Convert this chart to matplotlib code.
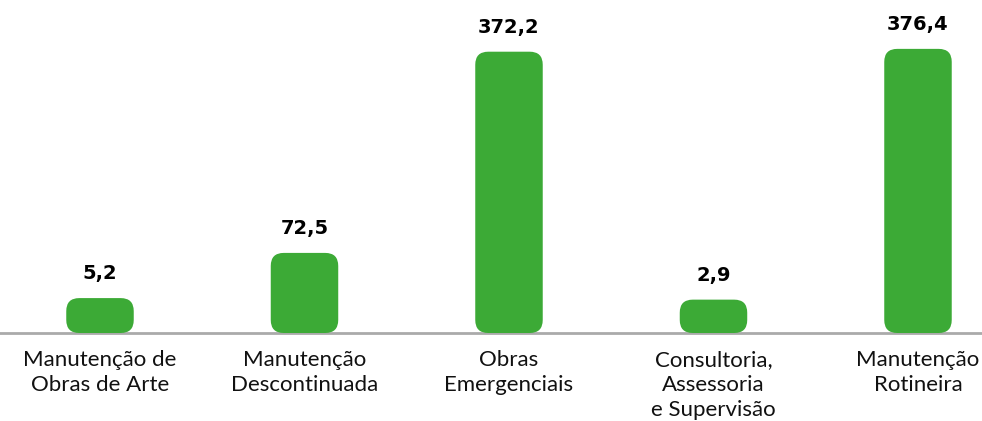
import matplotlib
matplotlib.use('Agg')
import matplotlib.pyplot as plt
from matplotlib.patches import FancyBboxPatch

categories = ['Manutenção de\nObras de Arte', 'Manutenção\nDescontinuada', 'Obras\nEmergenciais',
              'Consultoria,\nAssessoria\ne Supervisão', 'Manutenção\nRotineira']
values = [5.2, 72.5, 372.2, 2.9, 376.4]

green = '#3caa36'
stub = 46.8          # visual minimum added under every bar
bar_w = 0.33
dpi = 100
W, H = 982, 421
base_px, top_px = 88, 421

plt.rcParams['font.family'] = ['Lato', 'DejaVu Sans']

fig = plt.figure(figsize=(W / dpi, H / dpi), dpi=dpi)
ax = fig.add_axes([0, base_px / H, 1, (top_px - base_px) / H])

xlo, xhi = -0.489, 4.313
ylo, yhi = 0, 496
ax.set_xlim(xlo, xhi)
ax.set_ylim(ylo, yhi)

px_x = W / (xhi - xlo)
px_y = (top_px - base_px) / (yhi - ylo)
aspect = px_x / px_y

for i, v in enumerate(values):
    h = v + stub
    r_px = min(13, h * px_y / 2)
    p = FancyBboxPatch((i - bar_w / 2, 0), bar_w, h,
                       boxstyle=f'round,pad=0,rounding_size={r_px / px_x}',
                       mutation_aspect=aspect, fc=green, ec='none', zorder=2)
    ax.add_patch(p)
    ax.annotate(f'{v:.1f}'.replace('.', ','), (i, h), xytext=(0, 13.5), textcoords='offset points',
                ha='center', va='baseline', fontsize=14, fontweight='bold', color='black',
                family='DejaVu Sans')

ax.set_xticks(range(len(categories)))
ax.set_xticklabels(categories, fontsize=16, linespacing=1.32, color='#111111')
ax.tick_params(axis='x', length=0, pad=12)
ax.set_yticks([])
for s in ['top', 'left', 'right']:
    ax.spines[s].set_visible(False)
ax.spines['bottom'].set_color('#aaaaaa')
ax.spines['bottom'].set_linewidth(2)
ax.spines['bottom'].set_zorder(1)

fig.savefig('out.png', dpi=dpi)
